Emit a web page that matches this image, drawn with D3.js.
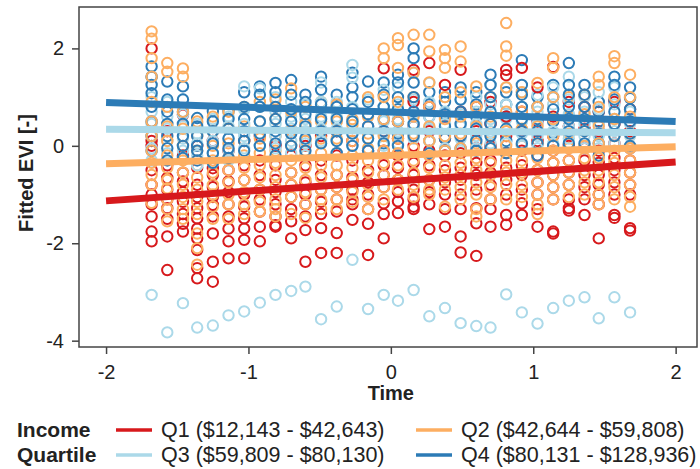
<!DOCTYPE html>
<html>
<head>
<meta charset="utf-8">
<script src="https://cdn.jsdelivr.net/npm/d3@7"></script>
<style>
  html, body { margin: 0; padding: 0; background: #fff; }
  svg text { font-family: "Liberation Sans", Arial, sans-serif; fill: #222; }
  .axis text { font-size: 20px; }
  .axis line { stroke: #444; stroke-width: 1.5; }
  .axis .domain { display: none; }
</style>
</head>
<body>
<div id="chart"></div>
<script>
// Standardised time of each survey column
const TIME = [-1.68, -1.57, -1.46, -1.36, -1.25, -1.14, -1.03, -0.92, -0.81, -0.70, -0.60,
  -0.49, -0.38, -0.27, -0.16, -0.05, 0.05, 0.16, 0.27, 0.38, 0.49, 0.60, 0.70, 0.81,
  0.92, 1.03, 1.14, 1.25, 1.36, 1.46, 1.57, 1.68];

// Fitted EVI per column (one inner array per TIME value)
const Q1_VALUES = [
  [2.0, 0.1, 0.0, -0.5, -0.8, -1.0, -1.2, -1.45, -1.76, -1.96],
  [0.3, -0.4, -0.66, -0.9, -1.1, -1.28, -1.5, -1.86, -2.55],
  [0.64, -0.2, -0.55, -0.73, -0.95, -1.15, -1.4, -1.6, -1.76],
  [0.0, -0.45, -0.8, -1.05, -1.28, -1.49, -1.7, -1.9, -2.14, -2.51, -2.72],
  [0.1, -0.46, -0.6, -0.85, -1.05, -1.21, -1.45, -1.8, -2.38, -2.79],
  [-0.1, -0.5, -0.73, -0.95, -1.2, -1.45, -1.7, -1.96, -2.31],
  [0.1, -0.4, -0.7, -1.0, -1.25, -1.49, -1.7, -1.93, -2.31],
  [0.2, -0.3, -0.6, -0.9, -1.1, -1.35, -1.66, -1.96],
  [0.0, -0.4, -0.7, -0.95, -1.2, -1.45, -1.63, -1.66],
  [0.3, -0.2, -0.55, -0.8, -1.05, -1.3, -1.55, -1.9],
  [0.0, -0.4, -0.75, -1.0, -1.2, -1.45, -1.73, -2.38],
  [0.2, -0.3, -0.6, -0.9, -1.15, -1.4, -1.69, -2.2],
  [0.3, -0.2, -0.6, -0.85, -1.1, -1.35, -1.79, -2.2],
  [0.1, -0.3, -0.65, -0.9, -1.1, -1.2, -1.52],
  [0.4, -0.1, -0.5, -0.75, -1.0, -1.3, -1.6, -2.24],
  [1.59, 0.3, -0.1, -0.4, -0.6, -0.85, -1.18, -1.4, -1.9],
  [0.5, 0.15, -0.2, -0.45, -0.7, -0.95, -1.14, -1.38],
  [1.56, 0.9, 0.4, 0.0, -0.35, -0.6, -0.9, -1.1, -1.25, -1.3],
  [1.7, 0.8, 0.3, -0.1, -0.4, -0.7, -0.95, -1.2, -1.71],
  [1.25, 0.6, 0.15, -0.2, -0.5, -0.75, -1.0, -1.3, -1.66],
  [1.56, 0.7, 0.2, -0.15, -0.45, -0.7, -1.0, -1.3, -1.86, -2.19],
  [0.8, 0.3, -0.05, -0.35, -0.6, -0.9, -1.28, -1.59, -2.26],
  [0.9, 0.45, 0.0, -0.3, -0.55, -0.8, -1.1, -1.3, -1.66],
  [1.56, 1.45, 0.6, 0.2, -0.15, -0.45, -0.7, -1.0, -1.42, -1.62],
  [1.6, 0.7, 0.3, -0.1, -0.4, -0.6, -0.9, -1.18, -1.42],
  [1.2, 0.5, 0.1, -0.2, -0.5, -0.75, -1.0, -1.3, -1.66],
  [1.62, 0.6, 0.2, -0.1, -0.35, -0.6, -0.85, -1.1, -1.76, -1.8],
  [0.9, 0.4, 0.0, -0.3, -0.55, -0.8, -1.1, -1.28, -1.33],
  [0.8, 0.35, -0.05, -0.3, -0.6, -0.85, -1.1, -1.42],
  [0.7, 0.3, -0.1, -0.35, -0.6, -0.8, -1.0, -1.2, -1.9],
  [0.9, 0.45, 0.05, -0.25, -0.5, -0.75, -1.0, -1.42, -1.48],
  [0.75, 0.3, -0.05, -0.3, -0.55, -0.8, -1.0, -1.69, -1.74]
];

const Q2_VALUES = [
  [2.35, 2.2, 1.8, 1.42, 0.9, 0.5, 0.2, -0.1, -0.35, -0.6, -0.8, -1.17],
  [1.7, 1.52, 0.8, 0.4, 0.1, -0.2, -0.45, -0.7, -0.87, -1.1, -1.3, -1.55],
  [1.59, 1.42, 0.7, 0.35, 0.0, -0.3, -0.55, -0.8, -1.05, -1.3, -1.5],
  [0.5, 0.2, -0.1, -0.4, -0.65, -0.9, -1.15, -1.4, -1.8, -2.1, -2.44],
  [0.6, 0.3, 0.0, -0.3, -0.55, -0.8, -1.0, -1.25, -1.5],
  [0.7, 0.35, 0.05, -0.25, -0.5, -0.75, -1.0, -1.2, -1.5],
  [0.8, 0.4, 0.1, -0.2, -0.45, -0.7, -0.95, -1.2, -1.4],
  [0.9, 0.5, 0.15, -0.15, -0.4, -0.65, -0.9, -1.15, -1.35],
  [0.95, 0.55, 0.2, -0.1, -0.35, -0.6, -0.85, -1.1, -1.3, -1.45],
  [1.18, 0.7, 0.3, 0.0, -0.3, -0.55, -0.8, -1.05, -1.4],
  [0.8, 0.45, 0.1, -0.2, -0.45, -0.7, -0.95, -1.2, -1.48],
  [0.9, 0.5, 0.15, -0.15, -0.4, -0.65, -0.9, -1.1, -1.3],
  [0.85, 0.5, 0.15, -0.15, -0.4, -0.6, -0.85, -1.1, -1.3],
  [0.55, 0.43, 0.1, -0.2, -0.45, -0.7, -0.95, -1.15],
  [1.0, 0.6, 0.25, -0.05, -0.3, -0.55, -0.8, -1.05, -1.3],
  [2.0, 1.8, 1.0, 0.55, 0.2, -0.1, -0.35, -0.6, -0.85, -1.1],
  [2.21, 2.07, 1.6, 0.9, 0.5, 0.15, -0.15, -0.4, -0.7, -0.9],
  [2.28, 1.5, 1.0, 0.6, 0.25, -0.05, -0.3, -0.55, -0.8, -1.05],
  [2.28, 1.94, 1.3, 0.8, 0.4, 0.1, -0.2, -0.45, -0.7, -0.9, -1.0],
  [1.97, 1.8, 1.6, 1.0, 0.55, 0.2, -0.1, -0.4, -0.65, -0.9, -1.25],
  [2.04, 1.73, 1.1, 0.6, 0.25, -0.05, -0.35, -0.6, -0.85, -1.1],
  [1.22, 0.8, 0.4, 0.05, -0.25, -0.5, -0.75, -1.0, -1.3, -1.45],
  [1.0, 0.6, 0.25, -0.05, -0.35, -0.6, -0.85, -1.1],
  [2.52, 2.04, 1.85, 1.2, 0.7, 0.3, 0.0, -0.3, -0.55, -0.8, -1.1],
  [1.1, 0.7, 0.35, 0.0, -0.3, -0.55, -0.8, -1.05],
  [1.29, 0.8, 0.4, 0.05, -0.25, -0.5, -0.75, -1.0, -1.2, -1.4],
  [1.8, 1.6, 1.0, 0.55, 0.2, -0.1, -0.35, -0.6, -0.85, -1.1],
  [1.0, 0.6, 0.25, -0.05, -0.3, -0.55, -0.8, -1.05],
  [1.05, 0.65, 0.3, 0.0, -0.25, -0.5, -0.75, -1.0],
  [1.42, 1.25, 0.8, 0.4, 0.05, -0.25, -0.5, -0.75, -1.0, -1.2],
  [1.84, 1.7, 1.0, 0.55, 0.2, -0.1, -0.35, -0.6, -0.85, -1.1],
  [1.46, 1.0, 0.6, 0.25, -0.05, -0.3, -0.55, -0.8, -1.05, -1.25]
];

const Q3_VALUES = [
  [1.42, 1.0, 0.7, 0.45, 0.2, -0.05, -0.3, -3.06],
  [0.9, 0.6, 0.35, 0.1, -0.15, -3.83],
  [0.95, 0.65, 0.4, 0.15, -0.1, -3.23],
  [0.45, 0.25, 0.05, -0.2, -0.4, -3.73],
  [0.55, 0.3, 0.1, -0.15, -0.35, -3.69],
  [0.6, 0.4, 0.15, -0.1, -0.3, -3.48],
  [1.22, 0.75, 0.45, 0.2, -0.05, -3.40],
  [1.18, 0.8, 0.5, 0.25, 0.0, -3.22],
  [1.0, 0.7, 0.45, 0.2, -0.05, -3.06],
  [0.9, 0.6, 0.35, 0.1, -0.15, -2.98],
  [0.85, 0.55, 0.3, 0.05, -0.2, -2.89],
  [1.3, 0.9, 0.6, 0.35, 0.1, -3.56],
  [0.9, 0.6, 0.35, 0.1, -0.15, -3.30],
  [1.66, 1.4, 0.8, 0.5, 0.25, 0.0, -2.34],
  [0.95, 0.65, 0.4, 0.15, -0.1, -3.35],
  [1.15, 0.8, 0.5, 0.25, 0.0, -3.06],
  [1.2, 0.85, 0.55, 0.3, 0.05, -3.18],
  [1.5, 0.95, 0.65, 0.4, 0.15, -2.96],
  [1.29, 0.9, 0.6, 0.35, 0.1, -3.50],
  [1.0, 0.7, 0.45, 0.2, -0.05, -3.33],
  [0.95, 0.65, 0.4, 0.15, -0.1, -3.64],
  [1.0, 0.7, 0.45, 0.2, -0.05, -3.70],
  [1.25, 0.85, 0.55, 0.3, 0.05, -3.73],
  [1.2, 0.85, 0.55, 0.3, 0.05, -3.05],
  [1.1, 0.8, 0.5, 0.25, 0.0, -3.42],
  [1.05, 0.7, 0.45, 0.2, -0.05, -3.65],
  [1.2, 0.85, 0.55, 0.3, 0.05, -3.33],
  [1.42, 0.95, 0.65, 0.4, 0.15, -3.18],
  [1.0, 0.7, 0.45, 0.2, -0.05, -3.11],
  [1.1, 0.75, 0.45, 0.2, -0.05, -3.54],
  [1.2, 0.85, 0.55, 0.3, 0.05, -3.11],
  [1.0, 0.7, 0.45, 0.2, -0.05, -3.42]
];

const Q4_VALUES = [
  [1.63, 1.42, 1.25, 1.08, 0.8, 0.5, 0.2, -0.1],
  [1.32, 0.95, 0.7, 0.45, 0.2, -0.05, -0.3],
  [1.22, 0.95, 0.7, 0.45, 0.2, 0.0, -0.25],
  [0.57, 0.4, 0.2, 0.0, -0.1, -0.3],
  [0.71, 0.5, 0.3, 0.05, -0.15, -0.35],
  [0.71, 0.55, 0.35, 0.15, -0.05, -0.25],
  [1.1, 0.8, 0.55, 0.3, 0.1, -0.1],
  [1.22, 1.05, 0.8, 0.5, 0.25, 0.0],
  [1.29, 1.1, 0.8, 0.55, 0.3, 0.05, -0.2],
  [1.35, 1.05, 0.75, 0.5, 0.25, 0.0],
  [1.05, 0.9, 0.65, 0.4, 0.15, -0.1],
  [1.42, 1.15, 0.85, 0.55, 0.3, 0.05],
  [1.05, 0.8, 0.55, 0.3, 0.1, -0.15],
  [1.5, 1.2, 1.0, 0.75, 0.5, 0.25, 0.0],
  [1.32, 0.9, 0.65, 0.4, 0.15, -0.1],
  [1.3, 1.05, 0.8, 0.55, 0.3, 0.05],
  [1.46, 1.3, 1.0, 0.75, 0.5, 0.25, 0.0],
  [2.0, 1.8, 1.3, 1.0, 0.7, 0.45, 0.2],
  [1.1, 0.85, 0.6, 0.35, 0.1, -0.15],
  [1.1, 0.9, 0.65, 0.4, 0.15, -0.1],
  [1.2, 0.95, 0.7, 0.45, 0.2, -0.05],
  [1.1, 0.85, 0.6, 0.35, 0.1, -0.1],
  [1.46, 1.25, 1.0, 0.7, 0.45, 0.2, -0.05],
  [1.1, 0.85, 0.6, 0.35, 0.1, -0.15],
  [1.76, 1.25, 1.05, 0.8, 0.55, 0.3, 0.05],
  [1.0, 0.8, 0.55, 0.3, 0.05, -0.2],
  [1.25, 1.0, 0.75, 0.5, 0.25, 0.0],
  [1.70, 1.25, 1.05, 0.8, 0.55, 0.3, 0.05],
  [1.25, 1.05, 0.8, 0.55, 0.3, 0.05],
  [0.9, 0.7, 0.5, 0.25, 0.05, -0.2],
  [1.42, 1.25, 0.95, 0.7, 0.45, 0.2],
  [1.2, 0.98, 0.75, 0.5, 0.25, 0.0]
];

// Fitted trend line of each quartile at Time = -2 and Time = 2
const FIT_X = [-2, 2];
const Q1_FIT = [-1.13, -0.33];
const Q2_FIT = [-0.37, -0.02];
const Q3_FIT = [0.34, 0.27];
const Q4_FIT = [0.89, 0.50];

const QUARTILE_LABELS = [
  "Q1 ($12,143 - $42,643)",
  "Q2 ($42,644 - $59,808)",
  "Q3 ($59,809 - $80,130)",
  "Q4 ($80,131 - $128,936)"
];
const X_TICKS = [-2, -1, 0, 1, 2];
const Y_TICKS = [-4, -2, 0, 2];

const COLORS = ["#d7191c", "#fdae61", "#abd9e9", "#2c7bb6"];

// Layout
const W = 700, H = 469;
const plot = { left: 79, right: 697, top: 7, bottom: 347 };

const series = [
  { name: QUARTILE_LABELS[0], values: Q1_VALUES, fit: Q1_FIT, color: COLORS[0] },
  { name: QUARTILE_LABELS[1], values: Q2_VALUES, fit: Q2_FIT, color: COLORS[1] },
  { name: QUARTILE_LABELS[2], values: Q3_VALUES, fit: Q3_FIT, color: COLORS[2] },
  { name: QUARTILE_LABELS[3], values: Q4_VALUES, fit: Q4_FIT, color: COLORS[3] }
];

const svg = d3.select("#chart").append("svg")
  .attr("width", W)
  .attr("height", H);

const x = d3.scaleLinear().domain([-2.19, 2.15]).range([plot.left, plot.right]);
const y = d3.scaleLinear().domain([-4.13, 2.85]).range([plot.bottom, plot.top]);

// Flatten points, interleaving the quartiles so that colours overlap as in the figure
const drawOrder = [3, 2, 0, 1];
const points = [];
TIME.forEach((t, c) => {
  const n = d3.max(series, s => s.values[c].length);
  for (let i = 0; i < n; i++) {
    drawOrder.forEach(si => {
      const v = series[si].values[c][i];
      if (v != null) points.push({ t, v, color: series[si].color });
    });
  }
});

svg.append("g")
  .selectAll("circle")
  .data(points)
  .join("circle")
  .attr("cx", d => x(d.t))
  .attr("cy", d => y(d.v))
  .attr("r", 5.2)
  .attr("fill", "none")
  .attr("stroke", d => d.color)
  .attr("stroke-width", 2);

// Trend lines
const line = d3.line()
  .x(d => x(d[0]))
  .y(d => y(d[1]));

svg.append("g")
  .selectAll("path")
  .data(series)
  .join("path")
  .attr("d", s => line(FIT_X.map((fx, i) => [fx, s.fit[i]])))
  .attr("fill", "none")
  .attr("stroke", s => s.color)
  .attr("stroke-width", 7);

// Frame
svg.append("rect")
  .attr("x", plot.left)
  .attr("y", plot.top)
  .attr("width", plot.right - plot.left)
  .attr("height", plot.bottom - plot.top)
  .attr("fill", "none")
  .attr("stroke", "#444")
  .attr("stroke-width", 1.5);

// Axes
svg.append("g")
  .attr("class", "axis")
  .attr("transform", `translate(0,${plot.bottom})`)
  .call(d3.axisBottom(x).tickValues(X_TICKS).tickSize(7).tickPadding(11).tickFormat(d3.format("d")));

svg.append("g")
  .attr("class", "axis")
  .attr("transform", `translate(${plot.left},0)`)
  .call(d3.axisLeft(y).tickValues(Y_TICKS).tickSize(7).tickPadding(8).tickFormat(d3.format("d")));

svg.selectAll(".axis text").text(function () { return this.textContent.replace("−", "-"); });

// Axis titles
svg.append("text")
  .attr("x", x(0))
  .attr("y", 400)
  .attr("text-anchor", "middle")
  .attr("font-weight", "bold")
  .attr("font-size", 20)
  .text("Time");

svg.append("text")
  .attr("transform", "translate(33,173) rotate(-90)")
  .attr("text-anchor", "middle")
  .attr("font-weight", "bold")
  .attr("font-size", 20)
  .text("Fitted EVI [-]");

// Legend
const legend = svg.append("g");
legend.append("text").attr("x", 17).attr("y", 437)
  .attr("font-weight", "bold").attr("font-size", 21).text("Income");
legend.append("text").attr("x", 17).attr("y", 462)
  .attr("font-weight", "bold").attr("font-size", 21).text("Quartile");

const legendPos = [
  { lx: 116, ly: 437 }, { lx: 416, ly: 437 },
  { lx: 116, ly: 462 }, { lx: 416, ly: 462 }
];

const items = legend.selectAll("g.item")
  .data(series)
  .join("g")
  .attr("class", "item")
  .attr("transform", (d, i) => `translate(${legendPos[i].lx},${legendPos[i].ly})`);

items.append("line")
  .attr("x1", 0).attr("x2", 36)
  .attr("y1", -7).attr("y2", -7)
  .attr("stroke", d => d.color)
  .attr("stroke-width", 3.5);

items.append("text")
  .attr("x", 45)
  .attr("y", 0)
  .attr("font-size", 21.5)
  .text(d => d.name);
</script>
</body>
</html>
